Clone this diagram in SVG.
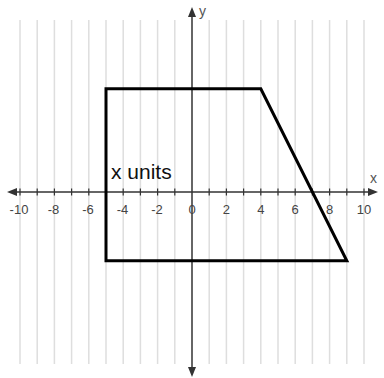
<svg xmlns="http://www.w3.org/2000/svg" width="384" height="378" viewBox="0 0 384 378">
<style>
.grid{stroke:#dedede;stroke-width:1.5}
.axis{stroke:#333;stroke-width:1.5;fill:none}
.tick{stroke:#333;stroke-width:1.2}
.lbl{font-family:"Liberation Sans",Arial,sans-serif;font-size:13px;fill:#444;text-anchor:middle}
.axlbl{font-family:"Liberation Sans",Arial,sans-serif;font-size:14px;fill:#555}
.shape{fill:none;stroke:#000;stroke-width:3;stroke-linejoin:miter}
</style>
<rect width="384" height="378" fill="#fff"/>
<g id="grid">
<line class="grid" x1="20" y1="20" x2="20" y2="364"/>
<line class="grid" x1="37.2" y1="20" x2="37.2" y2="364"/>
<line class="grid" x1="54.4" y1="20" x2="54.4" y2="364"/>
<line class="grid" x1="71.6" y1="20" x2="71.6" y2="364"/>
<line class="grid" x1="88.8" y1="20" x2="88.8" y2="364"/>
<line class="grid" x1="106" y1="20" x2="106" y2="364"/>
<line class="grid" x1="123.2" y1="20" x2="123.2" y2="364"/>
<line class="grid" x1="140.4" y1="20" x2="140.4" y2="364"/>
<line class="grid" x1="157.6" y1="20" x2="157.6" y2="364"/>
<line class="grid" x1="174.8" y1="20" x2="174.8" y2="364"/>
<line class="grid" x1="209.2" y1="20" x2="209.2" y2="364"/>
<line class="grid" x1="226.4" y1="20" x2="226.4" y2="364"/>
<line class="grid" x1="243.6" y1="20" x2="243.6" y2="364"/>
<line class="grid" x1="260.8" y1="20" x2="260.8" y2="364"/>
<line class="grid" x1="278" y1="20" x2="278" y2="364"/>
<line class="grid" x1="295.2" y1="20" x2="295.2" y2="364"/>
<line class="grid" x1="312.4" y1="20" x2="312.4" y2="364"/>
<line class="grid" x1="329.6" y1="20" x2="329.6" y2="364"/>
<line class="grid" x1="346.8" y1="20" x2="346.8" y2="364"/>
<line class="grid" x1="364" y1="20" x2="364" y2="364"/>
</g>
<g id="axes">
<line class="axis" x1="16" y1="192" x2="370" y2="192"/>
<line class="axis" x1="192" y1="16" x2="192" y2="368"/>
<polygon points="7,192 17,188 17,196" fill="#333"/>
<polygon points="378,192 368,188 368,196" fill="#333"/>
<polygon points="192,7 188,17 196,17" fill="#333"/>
<polygon points="192,377 188,367 196,367" fill="#333"/>
<g>
<line class="tick" x1="20" y1="188.5" x2="20" y2="195.5"/>
<line class="tick" x1="37.2" y1="188.5" x2="37.2" y2="195.5"/>
<line class="tick" x1="54.4" y1="188.5" x2="54.4" y2="195.5"/>
<line class="tick" x1="71.6" y1="188.5" x2="71.6" y2="195.5"/>
<line class="tick" x1="88.8" y1="188.5" x2="88.8" y2="195.5"/>
<line class="tick" x1="106" y1="188.5" x2="106" y2="195.5"/>
<line class="tick" x1="123.2" y1="188.5" x2="123.2" y2="195.5"/>
<line class="tick" x1="140.4" y1="188.5" x2="140.4" y2="195.5"/>
<line class="tick" x1="157.6" y1="188.5" x2="157.6" y2="195.5"/>
<line class="tick" x1="174.8" y1="188.5" x2="174.8" y2="195.5"/>
<line class="tick" x1="209.2" y1="188.5" x2="209.2" y2="195.5"/>
<line class="tick" x1="226.4" y1="188.5" x2="226.4" y2="195.5"/>
<line class="tick" x1="243.6" y1="188.5" x2="243.6" y2="195.5"/>
<line class="tick" x1="260.8" y1="188.5" x2="260.8" y2="195.5"/>
<line class="tick" x1="278" y1="188.5" x2="278" y2="195.5"/>
<line class="tick" x1="295.2" y1="188.5" x2="295.2" y2="195.5"/>
<line class="tick" x1="312.4" y1="188.5" x2="312.4" y2="195.5"/>
<line class="tick" x1="329.6" y1="188.5" x2="329.6" y2="195.5"/>
<line class="tick" x1="346.8" y1="188.5" x2="346.8" y2="195.5"/>
<line class="tick" x1="364" y1="188.5" x2="364" y2="195.5"/>
</g>
<g>
<text class="lbl" x="19" y="214">-10</text>
<text class="lbl" x="53.5" y="214">-8</text>
<text class="lbl" x="88" y="214">-6</text>
<text class="lbl" x="122.5" y="214">-4</text>
<text class="lbl" x="157" y="214">-2</text>
<text class="lbl" x="192" y="214">0</text>
<text class="lbl" x="226.4" y="214">2</text>
<text class="lbl" x="260.8" y="214">4</text>
<text class="lbl" x="295.2" y="214">6</text>
<text class="lbl" x="329.6" y="214">8</text>
<text class="lbl" x="364" y="214">10</text>
</g>
<text class="axlbl" x="370" y="183">x</text>
<text class="axlbl" x="199" y="16">y</text>
</g>
<g id="trapezoid">
<polygon class="shape" points="106,88.8 260.8,88.8 346.8,260.8 106,260.8"/>
</g>
<text x="111" y="179" font-family="Liberation Sans, Arial, sans-serif" font-size="21" fill="#111">x units</text>
</svg>
